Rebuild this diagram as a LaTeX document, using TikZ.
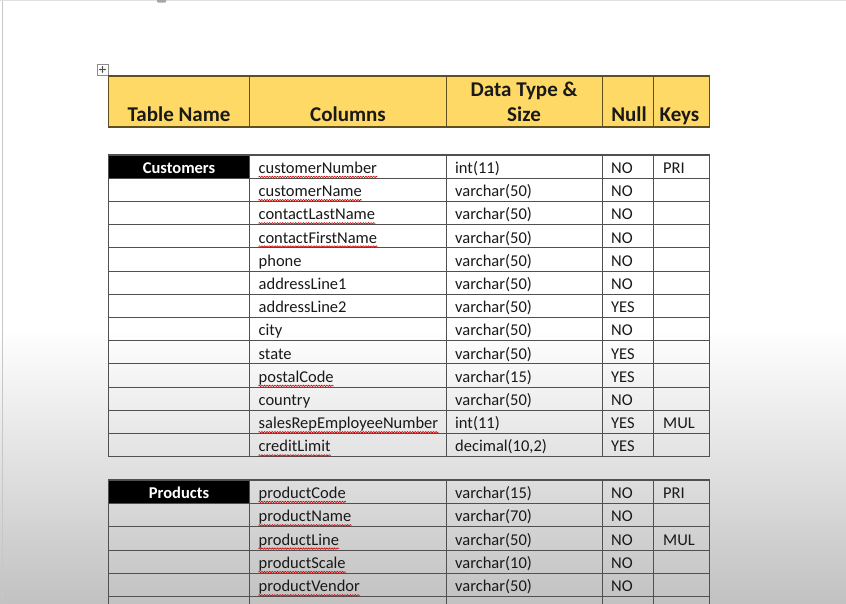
\documentclass[tikz,border=0pt]{standalone}
\usepackage{fontspec}
\setmainfont{Carlito}
\usepackage{tikz}
\usetikzlibrary{arrows.meta, decorations.pathmorphing}

\definecolor{hdrgold}{RGB}{255,217,102}
\definecolor{hdrline}{RGB}{95,78,30}
\definecolor{gridgray}{RGB}{80,80,80}

\begin{document}
\begin{tikzpicture}[x=1pt, y=-1pt,
    hdr/.style={font=\fontsize{21}{25.7}\selectfont\bfseries, inner sep=0pt, anchor=base, text=black!90},
    cell/.style={font=\fontsize{16.5}{20}\selectfont, inner sep=0pt, anchor=base west, yshift=-0.8pt, text=black!90},
    tname/.style={font=\fontsize{16.5}{20}\selectfont\bfseries, inner sep=0pt, anchor=base, yshift=-0.8pt, text=white},
    gridline/.style={draw=gridgray, line width=1.1pt},
    hdrbox/.style={draw=hdrline, line width=1.3pt},
    squig/.style={draw=red!80!black, line width=0.6pt, decorate, decoration={snake, amplitude=0.7pt, segment length=2.6pt}}
]

% Page
\useasboundingbox (0,0) rectangle (846,603);
\clip (0,0) rectangle (846,603);
\fill[white] (0,0) rectangle (846,330);
\shade[top color=white, bottom color=black!24] (0,329) rectangle (846,603);
\draw[black!22, line width=1pt] (2,0) -- (2,603);
\draw[black!12] (0,0.5) -- (846,0.5);
\fill[black!35, rounded corners=1pt] (157,-2) rectangle (166,2.5);

% Table handle
\draw[black!45, line width=0.5pt, fill=white] (97,64) rectangle (108,75);
\draw[black!70, line width=0.5pt, {Stealth[length=1.6pt, width=1.8pt]}-{Stealth[length=1.6pt, width=1.8pt]}] (99,69.5) -- (106,69.5);
\draw[black!70, line width=0.5pt, {Stealth[length=1.6pt, width=1.8pt]}-{Stealth[length=1.6pt, width=1.8pt]}] (102.5,66) -- (102.5,73);

% Header row
\fill[hdrgold] (108.5,76) rectangle (709.5,127);
\draw[hdrbox] (108.5,76) rectangle (709.5,127);
\draw[hdrline, line width=1pt] (249.5,76) -- (249.5,127) (446.8,76) -- (446.8,127) (602.8,76) -- (602.8,127) (653.5,76) -- (653.5,127);
\node[hdr] (htable) at (179,121.7) {Table Name};
\node[hdr] (hcols) at (348,121.7) {Columns};
\node[hdr, align=center] (htype) at (524,121.7) {Data Type \&\\Size};
\node[hdr] (hnull) at (629,121.7) {Null};
\node[hdr] (hkeys) at (679.5,121.7) {Keys};

% Customers grid
\fill[black] (108.5,155) rectangle (249.5,178.2);
\draw[gridline] (108.5,155) rectangle (709.5,456.7);
\draw[gridline] (249.5,155) -- (249.5,456.7) (446.8,155) -- (446.8,456.7) (602.8,155) -- (602.8,456.7) (653.5,155) -- (653.5,456.7);
\draw[gridline] (108.5,178.2) -- (709.5,178.2) (108.5,201.4) -- (709.5,201.4) (108.5,224.6) -- (709.5,224.6)
  (108.5,247.8) -- (709.5,247.8) (108.5,271.1) -- (709.5,271.1) (108.5,294.3) -- (709.5,294.3)
  (108.5,317.5) -- (709.5,317.5) (108.5,340.7) -- (709.5,340.7) (108.5,363.9) -- (709.5,363.9)
  (108.5,387.1) -- (709.5,387.1) (108.5,410.3) -- (709.5,410.3) (108.5,433.5) -- (709.5,433.5);
\node[tname] (customers) at (179,172.6) {Customers};

% Customers columns
\node[cell] (cc1) at (258.5,172.6) {customerNumber};
\node[cell] (cc2) at (258.5,195.8) {customerName};
\node[cell] (cc3) at (258.5,219.0) {contactLastName};
\node[cell] (cc4) at (258.5,242.2) {contactFirstName};
\node[cell] (cc5) at (258.5,265.4) {phone};
\node[cell] (cc6) at (258.5,288.7) {addressLine1};
\node[cell] (cc7) at (258.5,311.9) {addressLine2};
\node[cell] (cc8) at (258.5,335.1) {city};
\node[cell] (cc9) at (258.5,358.3) {state};
\node[cell] (cc10) at (258.5,381.5) {postalCode};
\node[cell] (cc11) at (258.5,404.7) {country};
\node[cell] (cc12) at (258.5,427.9) {salesRepEmployeeNumber};
\node[cell] (cc13) at (258.5,451.1) {creditLimit};

% Customers types
\node[cell] (ct1) at (455,172.6) {int(11)};
\node[cell] (ct2) at (455,195.8) {varchar(50)};
\node[cell] (ct3) at (455,219.0) {varchar(50)};
\node[cell] (ct4) at (455,242.2) {varchar(50)};
\node[cell] (ct5) at (455,265.4) {varchar(50)};
\node[cell] (ct6) at (455,288.7) {varchar(50)};
\node[cell] (ct7) at (455,311.9) {varchar(50)};
\node[cell] (ct8) at (455,335.1) {varchar(50)};
\node[cell] (ct9) at (455,358.3) {varchar(50)};
\node[cell] (ct10) at (455,381.5) {varchar(15)};
\node[cell] (ct11) at (455,404.7) {varchar(50)};
\node[cell] (ct12) at (455,427.9) {int(11)};
\node[cell] (ct13) at (455,451.1) {decimal(10,2)};

% Customers null / keys
\node[cell] (cn1) at (611,172.6) {NO};
\node[cell] (cn2) at (611,195.8) {NO};
\node[cell] (cn3) at (611,219.0) {NO};
\node[cell] (cn4) at (611,242.2) {NO};
\node[cell] (cn5) at (611,265.4) {NO};
\node[cell] (cn6) at (611,288.7) {NO};
\node[cell] (cn7) at (611,311.9) {YES};
\node[cell] (cn8) at (611,335.1) {NO};
\node[cell] (cn9) at (611,358.3) {YES};
\node[cell] (cn10) at (611,381.5) {YES};
\node[cell] (cn11) at (611,404.7) {NO};
\node[cell] (cn12) at (611,427.9) {YES};
\node[cell] (cn13) at (611,451.1) {YES};
\node[cell] (ck1) at (663,172.6) {PRI};
\node[cell] (ck12) at (663,427.9) {MUL};

% Products grid
\fill[black] (108.5,480) rectangle (249.5,503.4);
\draw[gridline] (108.5,615) -- (108.5,480) -- (709.5,480) -- (709.5,615);
\draw[gridline] (249.5,480) -- (249.5,615) (446.8,480) -- (446.8,615) (602.8,480) -- (602.8,615) (653.5,480) -- (653.5,615);
\draw[gridline] (108.5,503.4) -- (709.5,503.4) (108.5,526.7) -- (709.5,526.7) (108.5,550.1) -- (709.5,550.1)
  (108.5,573.4) -- (709.5,573.4) (108.5,596.8) -- (709.5,596.8);
\node[tname] (products) at (179,497.6) {Products};

% Products rows
\node[cell] (pc1) at (258.5,497.6) {productCode};
\node[cell] (pc2) at (258.5,521.0) {productName};
\node[cell] (pc3) at (258.5,544.3) {productLine};
\node[cell] (pc4) at (258.5,567.7) {productScale};
\node[cell] (pc5) at (258.5,591.0) {productVendor};
\node[cell] (pt1) at (455,497.6) {varchar(15)};
\node[cell] (pt2) at (455,521.0) {varchar(70)};
\node[cell] (pt3) at (455,544.3) {varchar(50)};
\node[cell] (pt4) at (455,567.7) {varchar(10)};
\node[cell] (pt5) at (455,591.0) {varchar(50)};
\node[cell] (pn1) at (611,497.6) {NO};
\node[cell] (pn2) at (611,521.0) {NO};
\node[cell] (pn3) at (611,544.3) {NO};
\node[cell] (pn4) at (611,567.7) {NO};
\node[cell] (pn5) at (611,591.0) {NO};
\node[cell] (pk1) at (663,497.6) {PRI};
\node[cell] (pk3) at (663,544.3) {MUL};

% Spell-check marks
\draw[squig] ([yshift=-3.5pt]cc1.base west) -- ([yshift=-3.5pt]cc1.base east);
\draw[squig] ([yshift=-3.5pt]cc2.base west) -- ([yshift=-3.5pt]cc2.base east);
\draw[squig] ([yshift=-3.5pt]cc3.base west) -- ([yshift=-3.5pt]cc3.base east);
\draw[squig] ([yshift=-3.5pt]cc4.base west) -- ([yshift=-3.5pt]cc4.base east);
\draw[squig] ([yshift=-3.5pt]cc10.base west) -- ([yshift=-3.5pt]cc10.base east);
\draw[squig] ([yshift=-3.5pt]cc12.base west) -- ([yshift=-3.5pt]cc12.base east);
\draw[squig] ([yshift=-3.5pt]cc13.base west) -- ([yshift=-3.5pt]cc13.base east);
\draw[squig] ([yshift=-3.5pt]pc1.base west) -- ([yshift=-3.5pt]pc1.base east);
\draw[squig] ([yshift=-3.5pt]pc2.base west) -- ([yshift=-3.5pt]pc2.base east);
\draw[squig] ([yshift=-3.5pt]pc3.base west) -- ([yshift=-3.5pt]pc3.base east);
\draw[squig] ([yshift=-3.5pt]pc4.base west) -- ([yshift=-3.5pt]pc4.base east);
\draw[squig] ([yshift=-3.5pt]pc5.base west) -- ([yshift=-3.5pt]pc5.base east);

\end{tikzpicture}
\end{document}
